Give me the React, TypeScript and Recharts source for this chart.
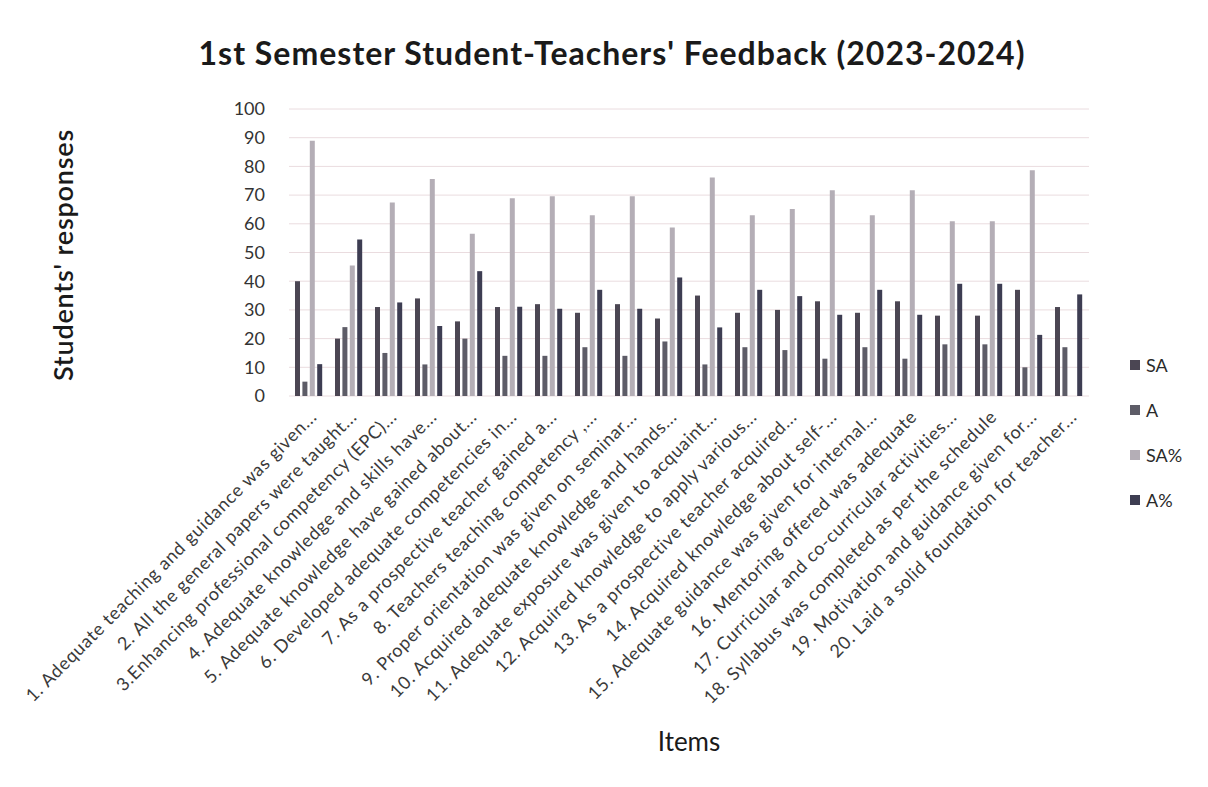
import React from "react";
import {
  BarChart,
  Bar,
  XAxis,
  YAxis,
  CartesianGrid,
  Legend,
} from "recharts";

const items = [
  "1. Adequate teaching and guidance was given...",
  "2. All the general papers were taught...",
  "3.Enhancing professional competency (EPC)...",
  "4. Adequate knowledge and skills have...",
  "5. Adequate knowledge have gained about...",
  "6. Developed adequate competencies in...",
  "7. As a prospective teacher gained a...",
  "8. Teachers teaching competency ,...",
  "9. Proper orientation was given on seminar...",
  "10. Acquired adequate knowledge and hands...",
  "11. Adequate exposure was given to acquaint...",
  "12. Acquired knowledge to apply various...",
  "13. As a prospective teacher acquired...",
  "14. Acquired knowledge about self-...",
  "15. Adequate guidance was given for internal...",
  "16. Mentoring offered was adequate",
  "17. Curricular and co-curricular activities...",
  "18. Syllabus was completed as per the schedule",
  "19. Motivation and guidance given for...",
  "20. Laid a solid foundation for teacher...",
];

const sa = [40, 20, 31, 34, 26, 31, 32, 29, 32, 27, 35, 29, 30, 33, 29, 33, 28, 28, 37, 31];
const a = [5, 24, 15, 11, 20, 14, 14, 17, 14, 19, 11, 17, 16, 13, 17, 13, 18, 18, 10, 17];
const saPct = [
  88.9, 45.5, 67.4, 75.6, 56.5, 68.9, 69.6, 63.0, 69.6, 58.7, 76.1, 63.0, 65.2, 71.7, 63.0,
  71.7, 60.9, 60.9, 78.7, null,
];
const aPct = [
  11.1, 54.5, 32.6, 24.4, 43.5, 31.1, 30.4, 37.0, 30.4, 41.3, 23.9, 37.0, 34.8, 28.3, 37.0,
  28.3, 39.1, 39.1, 21.3, 35.4,
];
const yTicks = [0, 10, 20, 30, 40, 50, 60, 70, 80, 90, 100];

const series = [
  { key: "SA", color: "#4b4653" },
  { key: "A", color: "#5d5c67" },
  { key: "SA%", color: "#b4aeb6" },
  { key: "A%", color: "#3d3d52" },
];

const data = items.map((item, i) => ({
  item,
  SA: sa[i],
  A: a[i],
  "SA%": saPct[i],
  "A%": aPct[i],
}));

const FONT = "Lato, 'Open Sans', sans-serif";

const ItemTick = (props: any) => {
  const { x, y, payload } = props;
  return (
    <g transform={`translate(${x + 9},${y + 14})`}>
      <text
        transform="rotate(-45)"
        textAnchor="end"
        fill="#3a3a3a"
        fontSize={18}
        letterSpacing={0.7}
        fontFamily={FONT}
      >
        {payload.value}
      </text>
    </g>
  );
};

const LegendBox = () => (
  <div style={{ fontFamily: FONT, fontSize: 18, color: "#2a2a2a" }}>
    {series.map((s) => (
      <div
        key={s.key}
        style={{ display: "flex", alignItems: "center", height: 45 }}
      >
        <span
          style={{
            display: "inline-block",
            width: 10,
            height: 10,
            background: s.color,
            marginRight: 6,
          }}
        />
        {s.key}
      </div>
    ))}
  </div>
);

export default function App() {
  return (
    <div style={{ position: "relative", width: 1200, height: 779, background: "#fff" }}>
      <div
        style={{
          position: "absolute",
          top: 25,
          left: 0,
          width: 1208,
          textAlign: "center",
          fontFamily: FONT,
          fontWeight: 700,
          fontSize: 32,
          letterSpacing: 1,
          color: "#1a1a1a",
        }}
      >
        1st Semester Student-Teachers' Feedback (2023-2024)
      </div>
      <BarChart
        width={1200}
        height={779}
        data={data}
        margin={{ top: 101, right: 119, left: 54, bottom: 31 }}
        barSize={5}
        barGap={2.4}
      >
        <CartesianGrid vertical={false} stroke="#eadcdf" />
        <XAxis
          dataKey="item"
          interval={0}
          height={360}
          axisLine={false}
          tickLine={false}
          tick={<ItemTick />}
          label={{
            value: "Items",
            position: "insideBottom",
            offset: 5,
            fontSize: 26,
            fontFamily: FONT,
            fill: "#1a1a1a",
          }}
        />
        <YAxis
          width={227}
          domain={[0, 100]}
          ticks={yTicks}
          axisLine={false}
          tickLine={false}
          tickSize={0}
          tickMargin={24}
          tick={{ fontSize: 18, fontFamily: FONT, fill: "#333" }}
          label={{
            content: () => (
              <text
                x={0}
                y={0}
                transform="translate(54,247) rotate(-90)"
                textAnchor="middle"
                dominantBaseline="central"
                fontSize={27}
                fontWeight={600}
                letterSpacing={0.8}
                fontFamily={FONT}
                fill="#1a1a1a"
              >
                Students' responses
              </text>
            ),
          }}
        />
        <Legend
          layout="vertical"
          align="center"
          verticalAlign="middle"
          content={<LegendBox />}
          wrapperStyle={{ left: 1122, top: 334, width: 80, height: 180 }}
        />
        {series.map((s) => (
          <Bar key={s.key} dataKey={s.key} fill={s.color} isAnimationActive={false} />
        ))}
      </BarChart>
    </div>
  );
}
